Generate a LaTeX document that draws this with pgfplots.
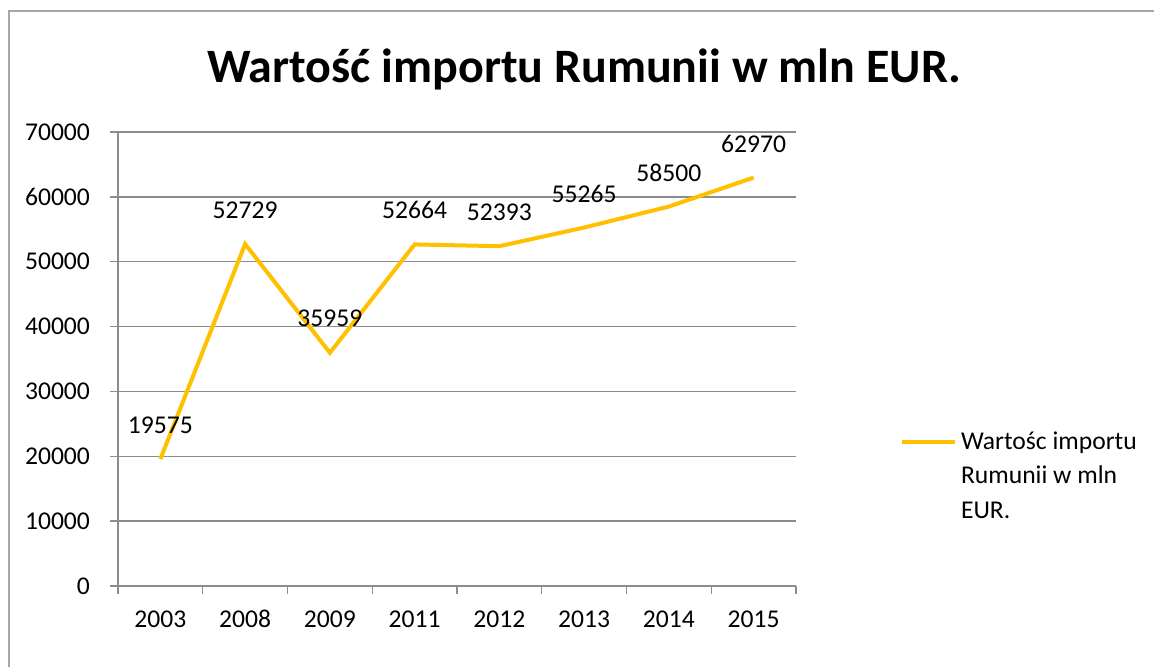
\documentclass[border=0pt]{standalone}
\usepackage{pgfplots}
\pgfplotsset{compat=1.18}
\usepackage{fontspec}
\setmainfont{Carlito}
\definecolor{gold}{HTML}{FFC000}
\definecolor{gridgray}{HTML}{8C8C8C}
\definecolor{bordergray}{HTML}{A6A6A6}
\begin{document}
\begin{tikzpicture}
\useasboundingbox (0pt,0pt) rectangle (577pt,333.5pt);
\draw[bordergray, line width=0.9pt] (4.5pt,-1pt) -- (4.5pt,328pt) -- (578pt,328pt);
\node[font=\fontsize{24}{28}\selectfont\bfseries] at (292pt,299pt) {Wartość importu Rumunii w mln EUR.};
\begin{axis}[
  at={(59pt,40.5pt)}, anchor=south west,
  scale only axis, width=339pt, height=227pt,
  xmin=-0.5, xmax=7.5, ymin=0, ymax=70000,
  ytick={0,10000,...,70000},
  xtick={-0.5,0.5,...,7.5}, xticklabels={},
  extra x ticks={0,1,2,3,4,5,6,7},
  extra x tick labels={2003,2008,2009,2011,2012,2013,2014,2015},
  extra x tick style={major tick length=0pt, grid=none,
    xticklabel style={anchor=base, yshift=-21pt}},
  scaled ticks=false,
  axis x line*=bottom, axis y line*=left,
  axis line style={gridgray, line width=0.7pt, -},
  tick style={gridgray, line width=0.7pt},
  tick align=outside, major tick length=4pt,
  ymajorgrids, grid style={gridgray, line width=0.65pt},
  tick label style={font=\fontsize{12.8}{15}\selectfont, text=black, /pgf/number format/1000 sep={}, /pgf/number format/assume math mode=true},
  yticklabel style={xshift=-6.5pt},
  legend style={draw=none, fill=none, at={(1.144,0.317)}, anchor=west,
    font=\fontsize{12.8}{17.25}\selectfont, nodes={text width=95pt, align=flush left}},
  legend cell align=left,
  legend image code/.code={\draw[#1] (0pt,0pt) -- (26.5pt,0pt);},
]
\addplot[gold, line width=2pt, nodes near coords,
  nodes near coords style={font=\fontsize{12.8}{15}\selectfont, text=black, anchor=center, yshift=17pt, /pgf/number format/1000 sep={}, /pgf/number format/assume math mode=true}]
  coordinates {(0,19575) (1,52729) (2,35959) (3,52664) (4,52393) (5,55265) (6,58500) (7,62970)};
\addlegendentry{Wartośc importu\\Rumunii w mln\\EUR.}
\end{axis}
\end{tikzpicture}
\end{document}
